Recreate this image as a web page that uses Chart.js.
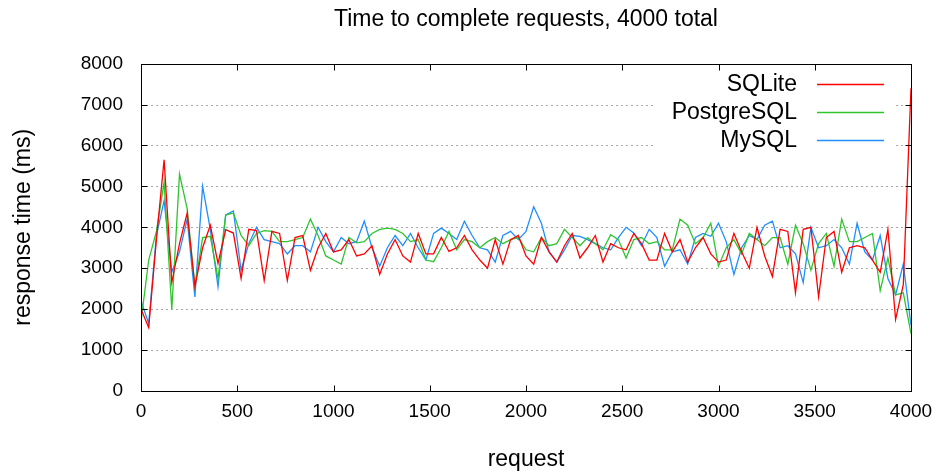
<!DOCTYPE html>
<html>
<head>
<meta charset="utf-8">
<script src="https://cdn.jsdelivr.net/npm/chart.js@4.4.1/dist/chart.umd.min.js"></script>
<style>
  html, body { margin: 0; padding: 0; background: #fff; }
  canvas { display: block; }
</style>
</head>
<body>
<canvas id="requests" width="940" height="473"></canvas>
<script>
const requests = [
  0, 40, 80, 120, 160, 200, 240, 280, 320, 360,
  400, 440, 480, 520, 560, 600, 640, 680, 720, 760,
  800, 840, 880, 920, 960, 1000, 1040, 1080, 1120, 1160,
  1200, 1240, 1280, 1320, 1360, 1400, 1440, 1480, 1520, 1560,
  1600, 1640, 1680, 1720, 1760, 1800, 1840, 1880, 1920, 1960,
  2000, 2040, 2080, 2120, 2160, 2200, 2240, 2280, 2320, 2360,
  2400, 2440, 2480, 2520, 2560, 2600, 2640, 2680, 2720, 2760,
  2800, 2840, 2880, 2920, 2960, 3000, 3040, 3080, 3120, 3160,
  3200, 3240, 3280, 3320, 3360, 3400, 3440, 3480, 3520, 3560,
  3600, 3640, 3680, 3720, 3760, 3800, 3840, 3880, 3920, 3960,
  4000
];

const sqlite = [
  2000, 1550, 3700, 5650, 2650, 3600, 4350, 2550, 3500, 4050,
  3120, 3940, 3860, 2750, 3950, 3920, 2700, 3900, 3850, 2700,
  3750, 3800, 2950, 3500, 3850, 3400, 3450, 3700, 3300, 3350,
  3550, 2850, 3350, 3700, 3300, 3150, 3850, 3350, 3350, 3750,
  3410, 3500, 3800, 3450, 3200, 3000, 3700, 3100, 3700, 3800,
  3300, 3100, 3750, 3400, 3150, 3550, 3850, 3250, 3500, 3800,
  3150, 3600, 3500, 3450, 3850, 3600, 3200, 3200, 3850, 3400,
  3700, 3150, 3500, 3750, 3350, 3150, 3200, 3850, 3400, 3000,
  4000, 3300, 2800, 3950, 3900, 2400, 3950, 4000, 2300, 3750,
  3900, 2900, 3500, 3550, 3500, 3200, 2900, 3950, 1750, 2600,
  7400
];

const postgresql = [
  1700, 3200, 3900, 5100, 2000, 5300, 4450, 2550, 3750, 3780,
  2750, 4300, 4350, 3800, 3550, 3850, 3920, 3900, 3650, 3650,
  3700, 3750, 4200, 3800, 3300, 3200, 3100, 3750, 3620, 3650,
  3850, 3950, 3980, 3950, 3850, 3650, 3700, 3200, 3160, 3500,
  3900, 3450, 3700, 3650, 3500, 3650, 3750, 3600, 3700, 3750,
  3450, 3400, 3750, 3550, 3600, 3950, 3750, 3550, 3750, 3600,
  3450, 3820, 3700, 3250, 3700, 3750, 3600, 3650, 3450, 3450,
  4200, 4050, 3600, 3750, 4100, 3050, 3500, 3700, 3350, 3850,
  3700, 3550, 3750, 3750, 3100, 4050, 3600, 2950, 3600, 3850,
  3050, 4200, 3650, 3650, 3750, 3850, 2450, 3250, 2350, 2400,
  1400
];

const mysql = [
  2200, 1650, 3800, 4650, 2900, 3400, 4200, 2300, 5000, 3950,
  2550, 4300, 4400, 2950, 3600, 4000, 3700, 3650, 3600, 3350,
  3550, 3550, 3400, 4000, 3650, 3400, 3750, 3600, 3650, 4150,
  3500, 3050, 3500, 3800, 3550, 3850, 3500, 3200, 3850, 3980,
  3850, 3700, 4150, 3800, 3500, 3450, 3150, 3800, 3900, 3700,
  3900, 4500, 4100, 3400, 3150, 3450, 3800, 3780, 3700, 3600,
  3500, 3450, 3750, 4000, 3860, 3550, 3950, 3750, 3050, 3400,
  3450, 3100, 3750, 3850, 3780, 4100, 3650, 2850, 3500, 3800,
  3700, 4050, 4150, 3500, 3550, 3350, 2650, 4000, 3500, 3550,
  3700, 3500, 3100, 4100, 3400, 3200, 3800, 2750, 2350, 3100,
  1600
];

const seriesNames = ["SQLite", "PostgreSQL", "MySQL"];
const seriesColors = ["#ff0000", "#2ec52e", "#1f8fff"];

const SANS = '"Liberation Sans", Arial, sans-serif';

function points(values) {
  return values.map((v, i) => ({ x: requests[i], y: v }));
}

// gnuplot look: dotted grid, framed box with inward ticks, legend top right
const gnuplotFrame = {
  id: "gnuplotFrame",
  beforeDatasetsDraw(chart) {
    const { ctx, chartArea: a, scales } = chart;
    ctx.save();
    ctx.strokeStyle = "#a8a8a8";
    ctx.lineWidth = 1;
    ctx.setLineDash([2, 3]);
    scales.y.ticks.forEach((t) => {
      if (t.value <= scales.y.min || t.value >= scales.y.max) return;
      const y = Math.round(scales.y.getPixelForValue(t.value)) + 0.5;
      ctx.beginPath();
      ctx.moveTo(a.left, y);
      ctx.lineTo(a.right, y);
      ctx.stroke();
    });
    ctx.restore();
  },
  afterDatasetsDraw(chart) {
    const { ctx, chartArea: a, scales } = chart;
    ctx.save();

    // legend
    ctx.fillStyle = "#fff";
    ctx.fillRect(656, 66, 238, 88);
    ctx.font = "23px " + SANS;
    ctx.textAlign = "right";
    ctx.textBaseline = "middle";
    chart.data.datasets.forEach((ds, i) => {
      const y = 84 + i * 28;
      ctx.fillStyle = "#000";
      ctx.fillText(ds.label, 797, y + 1);
      ctx.strokeStyle = ds.borderColor;
      ctx.lineWidth = 1.5;
      ctx.beginPath();
      ctx.moveTo(817, y + 0.5);
      ctx.lineTo(884, y + 0.5);
      ctx.stroke();
    });

    // frame
    ctx.strokeStyle = "#000";
    ctx.lineWidth = 1;
    const L = Math.round(a.left) + 0.5, R = Math.round(a.right) + 0.5;
    const T = Math.round(a.top) + 0.5, B = Math.round(a.bottom) + 0.5;
    ctx.strokeRect(L, T, R - L, B - T);
    const len = 6;
    ctx.beginPath();
    scales.y.ticks.forEach((t) => {
      const y = Math.round(scales.y.getPixelForValue(t.value)) + 0.5;
      ctx.moveTo(L, y); ctx.lineTo(L + len, y);
      ctx.moveTo(R, y); ctx.lineTo(R - len, y);
    });
    scales.x.ticks.forEach((t) => {
      const x = Math.round(scales.x.getPixelForValue(t.value)) + 0.5;
      ctx.moveTo(x, B); ctx.lineTo(x, B - len);
      ctx.moveTo(x, T); ctx.lineTo(x, T + len);
    });
    ctx.stroke();
    ctx.restore();
  }
};

new Chart(document.getElementById("requests"), {
  type: "line",
  data: {
    datasets: [sqlite, postgresql, mysql].map((vals, i) => ({
      label: seriesNames[i],
      data: points(vals),
      borderColor: seriesColors[i],
      backgroundColor: seriesColors[i],
      borderWidth: 1.3,
      pointRadius: 0,
      tension: 0,
      fill: false
    }))
  },
  options: {
    responsive: false,
    animation: false,
    devicePixelRatio: 1,
    layout: { padding: { left: 0, right: 29, top: 0, bottom: 0 } },
    plugins: {
      legend: { display: false },
      tooltip: { enabled: false },
      title: {
        display: true,
        fullSize: false,
        text: "Time to complete requests, 4000 total",
        color: "#000",
        font: { family: SANS, size: 23, weight: "normal" },
        padding: { top: 6, bottom: 30 }
      }
    },
    scales: {
      x: {
        type: "linear",
        min: 0,
        max: 4000,
        afterFit(scale) {
          scale.height = 82;
          scale.paddingLeft = 0;
          scale.paddingRight = 0;
        },
        ticks: {
          stepSize: 500,
          color: "#000",
          padding: 9,
          maxRotation: 0,
          callback: (v) => String(v),
          font: { family: SANS, size: 19 }
        },
        grid: { display: false, drawTicks: false },
        border: { display: false },
        title: {
          display: true,
          text: "request",
          color: "#000",
          font: { family: SANS, size: 23 },
          padding: { top: 0, bottom: 0 }
        }
      },
      y: {
        min: 0,
        max: 8000,
        afterFit(scale) {
          scale.width = 141;
          scale.paddingTop = 0;
          scale.paddingBottom = 0;
        },
        ticks: {
          stepSize: 1000,
          color: "#000",
          padding: 18,
          callback: (v) => String(v),
          font: { family: SANS, size: 19 }
        },
        grid: { display: false, drawTicks: false },
        border: { display: false },
        title: {
          display: true,
          text: "response time (ms)",
          color: "#000",
          font: { family: SANS, size: 23 },
          padding: { top: 10, bottom: 0 }
        }
      }
    }
  },
  plugins: [gnuplotFrame]
});
</script>
</body>
</html>
